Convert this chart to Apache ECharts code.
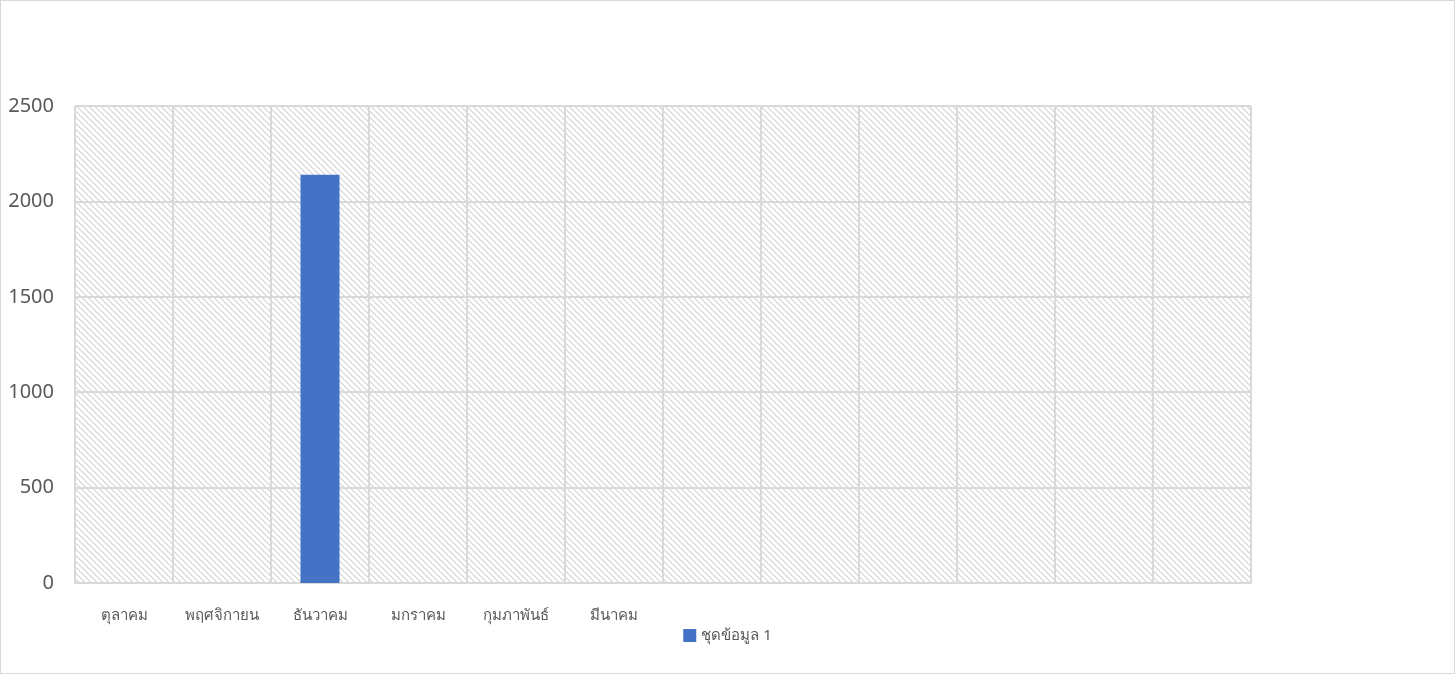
<!DOCTYPE html>
<html>
<head>
<meta charset="utf-8">
<script src="https://cdn.jsdelivr.net/npm/echarts@6/dist/echarts.min.js"></script>
<style>
html,body{margin:0;padding:0;background:#fff;}
#c{width:1453px;height:672px;border:1px solid #d9d9d9;}
</style>
</head>
<body>
<div id="c"></div>
<script>
const categories = ['ตุลาคม','พฤศจิกายน','ธันวาคม','มกราคม','กุมภาพันธ์','มีนาคม','','','','','',''];
const seriesName = 'ชุดข้อมูล 1';
const values = [null, null, 2140, null, null, null, null, null, null, null, null, null];
const yTicks = {min: 0, max: 2500, interval: 500};

const T = 6;
const tile = document.createElement('canvas');
tile.width = T; tile.height = T;
const tctx = tile.getContext('2d');
tctx.fillStyle = '#ffffff';
tctx.fillRect(0,0,T,T);
tctx.fillStyle = '#dedede';
for (let i = 0; i < T; i++) { tctx.fillRect(i, i, 1, 1); tctx.fillRect((i+1)%T, i, 1, 1); }

const chart = echarts.init(document.getElementById('c'));
chart.setOption({
  animation: false,
  textStyle: {fontFamily: 'Noto Sans, DejaVu Sans, sans-serif'},
  grid: {left: 74, top: 105, right: 203, bottom: 90, show: true, borderWidth: 0,
         backgroundColor: {image: tile, repeat: 'repeat'}},
  legend: {
    data: [seriesName], bottom: 25, left: 'center',
    itemWidth: 13, itemHeight: 13, icon: 'rect', itemGap: 6,
    textStyle: {color: '#595959', fontSize: 15}
  },
  xAxis: {
    type: 'category', data: categories, boundaryGap: true,
    axisLine: {show: true, lineStyle: {color: '#d9d9d9', width: 2}},
    axisTick: {show: false},
    splitLine: {show: true, interval: 0, lineStyle: {color: '#d9d9d9', width: 2}},
    axisLabel: {interval: 0, color: '#595959', fontSize: 15, margin: 25}
  },
  yAxis: {
    type: 'value', min: yTicks.min, max: yTicks.max, interval: yTicks.interval,
    axisLine: {show: false}, axisTick: {show: false},
    splitLine: {show: true, lineStyle: {color: '#d9d9d9', width: 2}},
    axisLabel: {color: '#595959', fontSize: 20, margin: 21, formatter: v => String(v)}
  },
  series: [{
    name: seriesName, type: 'bar', data: values, barWidth: 39,
    itemStyle: {color: '#4472c4'}
  }]
});
</script>
</body>
</html>
